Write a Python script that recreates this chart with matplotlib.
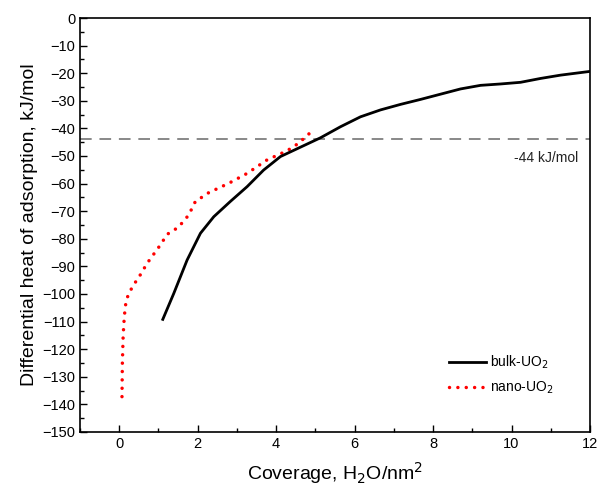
import matplotlib
matplotlib.use("Agg")
import matplotlib.pyplot as plt
from matplotlib.ticker import MultipleLocator

plt.rcParams['font.family'] = ['Liberation Sans', 'DejaVu Sans']

# bulk-UO2 differential heat curve
bulk_x = [1.11, 1.39, 1.73, 2.07, 2.41, 2.83, 3.26, 3.68, 4.11, 4.62, 5.13,
          5.64, 6.15, 6.66, 7.17, 7.68, 8.19, 8.70, 9.21, 9.72, 10.23, 10.74,
          11.25, 11.97]
bulk_y = [-109.2, -99.8, -87.7, -78.0, -72.0, -66.5, -61.1, -55.1, -50.2, -46.8, -43.4,
          -39.4, -35.8, -33.3, -31.3, -29.5, -27.6, -25.7, -24.4, -23.9, -23.3, -21.9,
          -20.7, -19.4]

# nano-UO2 differential heat curve
nano_x = [0.07, 0.08, 0.10, 0.13, 0.17, 0.24, 0.40, 0.54, 0.71, 1.05, 1.22, 1.51,
          1.77, 1.94, 2.28, 2.79, 3.26, 3.77, 4.28, 4.57, 4.85]
nano_y = [-137.2, -125.0, -115.0, -108.0, -103.0, -99.8, -96.0, -93.0, -88.9, -82.2,
          -78.4, -75.8, -71.4, -66.5, -63.3, -59.9, -56.3, -51.4, -48.1, -45.4, -41.8]

ref_level = -44
ref_label = "-44 kJ/mol"

fig = plt.figure(figsize=(5.98, 4.92), dpi=100)
ax = fig.add_axes([0.1338, 0.122, 0.8528, 0.8414])

ax.axhline(ref_level, color='#888888', lw=1.4, ls=(0, (6, 4)), zorder=1)
ax.plot(bulk_x, bulk_y, color='black', lw=2.0, label='bulk-UO$_2$', zorder=3)
ax.plot(nano_x, nano_y, color='red', lw=2.5, ls=(0, (0.01, 2.4)),
        dash_capstyle='round', label='nano-UO$_2$', zorder=2)

ax.text(11.7, ref_level - 4.3, ref_label, ha='right', va='top', fontsize=10,
        color='#222222')

ax.set_xlim(-1, 12)
ax.set_ylim(-150, 0)
ax.xaxis.set_major_locator(MultipleLocator(2))
ax.xaxis.set_minor_locator(MultipleLocator(1))
ax.yaxis.set_major_locator(MultipleLocator(10))
ax.yaxis.set_minor_locator(MultipleLocator(5))
ax.set_xticks([0, 2, 4, 6, 8, 10, 12])

ax.tick_params(which='both', direction='in', top=False, right=False,
               labelsize=10.5, width=1.0)
ax.tick_params(which='major', length=5)
ax.tick_params(which='minor', length=3)
for s in ax.spines.values():
    s.set_linewidth(1.2)

ax.set_xlabel('Coverage, H$_2$O/nm$^2$', fontsize=14, labelpad=7)
ax.set_ylabel('Differential heat of adsorption, kJ/mol', fontsize=14, labelpad=3)

ax.legend(loc='center left', bbox_to_anchor=(0.70, 0.138), frameon=False,
          fontsize=10, handlelength=2.6, handletextpad=0.3, labelspacing=0.6)

fig.savefig('out.png', dpi=100)
